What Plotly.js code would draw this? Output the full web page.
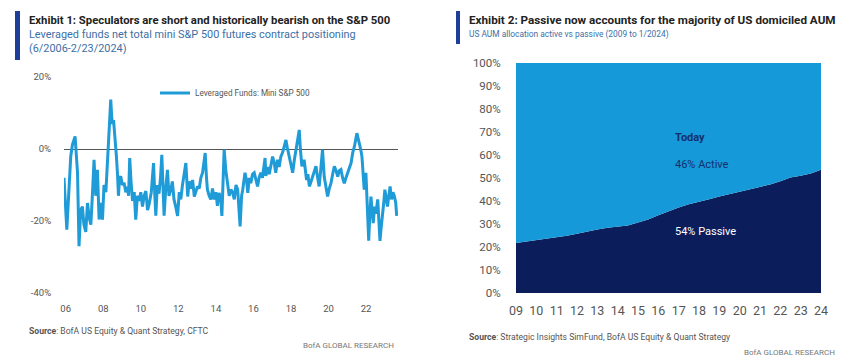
<!DOCTYPE html>
<html><head><meta charset="utf-8">
<script src="https://cdn.plot.ly/plotly-3.0.1.min.js"></script>
<style>html,body{margin:0;padding:0;background:#fff;}#chart{width:848px;height:364px;}</style>
</head><body><div id="chart"></div>
<script>
// ---- Exhibit 1: Leveraged funds net positioning (% of OI) ----
const levYears = [2006.41,2006.56,2006.77,2006.86,2007.0,2007.13,2007.21,2007.30,2007.39,2007.47,2007.57,2007.66,2007.75,2007.84,2007.93,
2008.01,2008.1,2008.19,2008.28,2008.37,2008.46,2008.54,2008.64,2008.73,2008.82,2008.9,2008.95,2008.99,2009.05,2009.13,2009.2,2009.26,2009.31,2009.37,2009.43,2009.52,2009.61,2009.7,2009.79,2009.85,2009.91,2009.98,
2010.06,2010.15,2010.23,2010.32,2010.41,2010.5,2010.59,2010.68,2010.77,2010.86,2010.94,2011.06,2011.18,2011.24,2011.3,2011.38,2011.47,2011.55,2011.62,2011.68,2011.74,2011.83,2011.92,
2012.0,2012.1,2012.18,2012.27,2012.36,2012.46,2012.55,2012.63,2012.72,2012.81,2012.9,2013.0,2013.08,2013.17,2013.26,2013.35,2013.44,2013.52,2013.61,2013.7,2013.79,2013.86,2013.93,
2014.0,2014.05,2014.14,2014.23,2014.32,2014.41,2014.5,2014.58,2014.67,2014.76,2014.82,2014.88,2014.94,2015.03,2015.12,2015.21,2015.3,2015.39,2015.48,2015.57,2015.66,2015.72,2015.79,2015.87,2015.93,
2016.05,2016.14,2016.2,2016.28,2016.36,2016.45,2016.54,2016.63,2016.72,2016.8,2016.89,2016.98,2017.07,2017.12,2017.16,2017.25,2017.34,2017.43,2017.52,2017.61,2017.69,2017.78,2017.87,2017.96,
2018.05,2018.14,2018.23,2018.3,2018.41,2018.5,2018.59,2018.68,2018.77,2018.86,2018.94,2019.0,2019.08,2019.2,2019.27,2019.33,2019.4,2019.48,2019.57,2019.66,2019.74,2019.83,2019.92,
2020.0,2020.08,2020.18,2020.27,2020.36,2020.45,2020.54,2020.63,2020.72,2020.81,2020.9,2020.99,2021.07,2021.16,2021.25,2021.34,2021.43,2021.52,2021.61,2021.7,2021.79,2021.88,
2022.01,2022.08,2022.14,2022.21,2022.28,2022.35,2022.4,2022.49,2022.56,2022.64,2022.7,2022.76,2022.82,2022.88,2022.95,2023.02,2023.12,2023.18,2023.24,2023.3,2023.38,2023.44,2023.5,2023.58,2023.64,2023.71,2023.78,2023.85,2023.93,2024.01,2024.08,2024.13];
const levValues = [-8,-22.4,-2,1.2,3.5,-6.6,-27,-17,-16,-21,-23,-15,-19,-21,-12,
-3,-13,-5.8,-19.6,-15,-19.6,-10,-12,-3,5,13.7,9,7,8,3.3,-2,-7,-13,-8,-7.6,-10,-9.4,-12,-10.5,-13,-2.5,-9,
-14.4,-12,-19.6,-13,-14.4,-12,-16,-13,-11.7,-17,-15.4,-12,-3.9,-12,-18.5,-10,-12.4,-8,-1.6,-10,-18.5,-11,-5.8,
-13,-11.3,-9,-14,-16,-18.6,-12,-14,-10,-6.6,-3.9,-13.2,-9,-11,-8.6,-13.2,-12,-10.4,-11,-8,-6.6,-4,-1.1,
-8,-11.3,-13,-14,-11,-14,-12,-15.8,-12.2,-14,-18.6,-8,-0.2,-6,-9.5,-13,-11.3,-12,-14,-10,-11.3,-15,-21.5,-13,-11.3,
-6.6,-9,-12.2,-8,-9.5,-7,-6.6,-9,-10.4,-8,-6.6,-8,-4.8,-2.5,-7.5,-5,-7,-4.8,-2.1,-4,-6.6,-3,-5,-2.1,
-1,0.7,2.5,0.5,-2.1,-4,-6.6,-3,-0.2,2,5.3,0,-4.8,-3,-6,-8.6,-7,-10.4,-9,-7.7,-6,-4.8,-8,
-10.4,-6,-0.2,-7.7,-10,-13.2,-11,-9.5,-7,-4.8,-6,-7.7,-6,-5.7,-8,-9.5,-8,-6.6,-5,-3.9,-1,0.7,
4.4,3,1.6,0,-2.1,-7,-11.3,-6.6,-15,-25.5,-18,-13.2,-17,-20.6,-16,-18,-14,-19,-25.5,-22,-18.6,-15,-11.3,-14,-16,-13,-10.4,-14,-12,-13.2,-15,-18.6];
const levTickVals = [2006.5,2008.5,2010.5,2012.5,2014.5,2016.5,2018.5,2020.5,2022.5];
const levTickText = ['06','08','10','12','14','16','18','20','22'];
const levYTicks = [-40,-20,0,20];
const levYText = ['-40%','-20%','0%','20%'];

// ---- Exhibit 2: US AUM passive share (%) ----
const aumYears = [2009.0,2009.5,2010.0,2010.5,2011.0,2011.5,2012.0,2012.5,2013.0,2013.5,2014.0,2014.5,2015.0,2015.5,2016.0,2016.5,2017.0,2017.5,2018.0,2018.5,2019.0,2019.5,2020.0,2020.5,2021.0,2021.5,2022.0,2022.5,2023.0,2023.5,2024.0];
const passiveShare = [21.7,22.3,22.8,23.6,24.3,24.9,25.8,26.8,27.6,28.4,29.0,29.4,30.6,32.0,33.8,35.6,37.2,38.6,39.6,40.8,42.0,43.0,43.9,45.0,46.0,47.2,48.6,50.2,51.0,52.0,53.6];
const aumTickVals = [2009,2010,2011,2012,2013,2014,2015,2016,2017,2018,2019,2020,2021,2022,2023,2024];
const aumTickText = ['09','10','11','12','13','14','15','16','17','18','19','20','21','22','23','24'];
const aumYTicks = [0,10,20,30,40,50,60,70,80,90,100];
const aumYText = aumYTicks.map(v => v + '%');

const activeShare = passiveShare.map(p => 100 - p);

const W = 848, H = 364;
const px = x => x / W, py = y => 1 - y / H;
const FONT = 'Roboto, "Open Sans", sans-serif';
const LIGHT = '#1699d8', NAVY = '#0b1e5b';

const traces = [
  {x: levYears, y: levValues, type: 'scatter', mode: 'lines', name: 'Leveraged Funds: Mini S&P 500',
   line: {color: '#1f9bd7', width: 3}, xaxis: 'x', yaxis: 'y', showlegend: true},
  {x: aumYears, y: passiveShare, type: 'scatter', mode: 'lines', stackgroup: 'aum', name: 'Passive',
   line: {width: 0, color: NAVY}, fillcolor: NAVY, xaxis: 'x2', yaxis: 'y2', showlegend: false},
  {x: aumYears, y: activeShare, type: 'scatter', mode: 'lines', stackgroup: 'aum', name: 'Active',
   line: {width: 0, color: LIGHT}, fillcolor: LIGHT, xaxis: 'x2', yaxis: 'y2', showlegend: false}
];

const ann = [];
function txt(text, x, y, size, color, opts) {
  ann.push(Object.assign({text: text, x: px(x), y: py(y), xref: 'paper', yref: 'paper', showarrow: false,
    xanchor: 'left', yanchor: 'middle', font: {family: FONT, size: size, color: color}}, opts || {}));
}
txt('<b>Exhibit 1: Speculators are short and historically bearish on the S&P 500</b>', 27, 20, 11.3, '#222');
txt('Leveraged funds net total mini S&P 500 futures contract positioning', 27, 34, 10.9, '#3d6fa6');
txt('(6/2006-2/23/2024)', 27, 49, 10.9, '#3d6fa6');
txt('<b>Source</b>: BofA US Equity & Quant Strategy, CFTC', 27, 331, 8.6, '#555');
txt('BofA GLOBAL RESEARCH', 396, 345, 8, '#777', {xanchor: 'right'});

txt('<b>Exhibit 2: Passive now accounts for the majority of US domiciled AUM</b>', 467, 20, 11.7, '#222');
txt('US AUM allocation active vs passive (2009 to 1/2024)', 467, 34, 8.4, '#3d6fa6');
txt('<b>Source</b>: Strategic Insights SimFund, BofA US Equity & Quant Strategy', 467, 337, 8.6, '#555');
txt('BofA GLOBAL RESEARCH', 837, 352, 8, '#777', {xanchor: 'right'});

txt('<b>Today</b>', 673, 137, 11, '#13306e');
txt('46% Active', 673, 165, 11, '#13306e');
txt('54% Passive', 673, 232, 11, '#ffffff');

const shapes = [
  {type: 'rect', xref: 'paper', yref: 'paper', x0: px(15), x1: px(20), y0: py(60), y1: py(11), fillcolor: '#1d3f99', line: {width: 0}},
  {type: 'rect', xref: 'paper', yref: 'paper', x0: px(456), x1: px(460), y0: py(44), y1: py(11), fillcolor: '#1d3f99', line: {width: 0}}
];

const tickFont = {family: FONT, size: 9.5, color: '#555'};
const layout = {
  width: W, height: H, margin: {l: 0, r: 0, t: 0, b: 0},
  paper_bgcolor: '#fff', plot_bgcolor: 'rgba(0,0,0,0)',
  showlegend: true,
  legend: {x: px(155), y: py(93), xanchor: 'left', yanchor: 'middle', bgcolor: 'rgba(0,0,0,0)',
    font: {family: FONT, size: 8.2, color: '#555'}, itemwidth: 30},
  xaxis: {domain: [px(64), px(398)], range: [2006.41, 2024.2], tickvals: levTickVals, ticktext: levTickText,
    showgrid: false, zeroline: false, showline: false, ticks: 'outside', ticklen: 7, tickcolor: 'rgba(0,0,0,0)',
    tickfont: tickFont, fixedrange: true},
  yaxis: {domain: [py(293), py(77)], range: [-40, 20], tickvals: levYTicks, ticktext: levYText,
    showgrid: false, zeroline: true, zerolinecolor: '#555', zerolinewidth: 1, showline: false,
    ticks: 'outside', ticklen: 10, tickcolor: 'rgba(0,0,0,0)', tickfont: tickFont, fixedrange: true},
  xaxis2: {domain: [px(516), px(821)], range: [2009, 2024], tickvals: aumTickVals, ticktext: aumTickText,
    anchor: 'y2', showgrid: false, zeroline: false, showline: false, ticks: 'outside', ticklen: 6,
    tickcolor: 'rgba(0,0,0,0)', tickfont: {family: FONT, size: 12.5, color: '#555'}, fixedrange: true},
  yaxis2: {domain: [py(293), py(63)], range: [0, 100], tickvals: aumYTicks, ticktext: aumYText,
    anchor: 'x2', showgrid: false, zeroline: false, showline: false, ticks: 'outside', ticklen: 12,
    tickcolor: 'rgba(0,0,0,0)', tickfont: {family: FONT, size: 11.5, color: '#555'}, fixedrange: true},
  annotations: ann,
  shapes: shapes
};
Plotly.newPlot('chart', traces, layout, {displayModeBar: false, staticPlot: true});
</script>
</body></html>
